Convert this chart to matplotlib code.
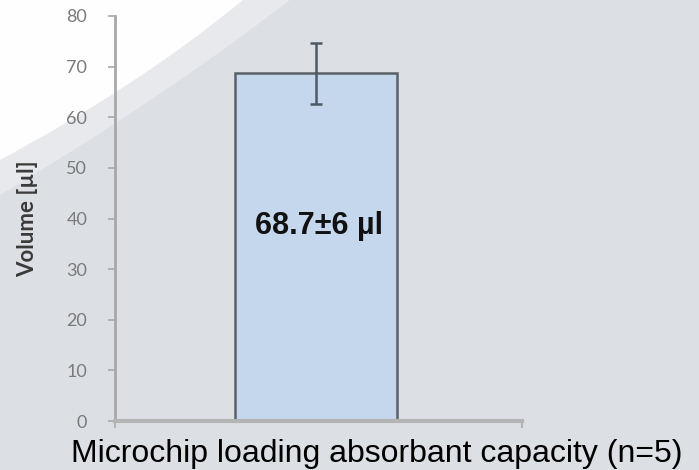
import matplotlib
matplotlib.use("Agg")
import matplotlib.pyplot as plt
from matplotlib.path import Path
from matplotlib.patches import PathPatch

# Data
categories = ["Microchip loading absorbant capacity (n=5)"]
values = [68.7]
errors = [6.0]
bar_label = "68.7±6 µl"
y_ticks = [0, 10, 20, 30, 40, 50, 60, 70, 80]
y_label = "Volume [µl]"

W, H = 699, 470
fig = plt.figure(figsize=(W / 100, H / 100), dpi=100)
fig.patch.set_facecolor("#dcdfe4")

def fp(x, y):
    return (x / W, 1 - y / H)

# decorative swoosh band
band = Path([fp(0, 0), fp(0, 195), fp(160, 100), fp(290, 0), fp(0, 0)],
            [Path.MOVETO, Path.LINETO, Path.CURVE3, Path.CURVE3, Path.CLOSEPOLY])
fig.patches.append(PathPatch(band, transform=fig.transFigure, facecolor="#e7e9ec",
                             edgecolor="none", zorder=-2))
white = Path([fp(0, 0), fp(0, 160), fp(140, 85), fp(243, 0), fp(0, 0)],
             [Path.MOVETO, Path.LINETO, Path.CURVE3, Path.CURVE3, Path.CLOSEPOLY])
fig.patches.append(PathPatch(white, transform=fig.transFigure, facecolor="#fefefe",
                             edgecolor="none", zorder=-1))

ax = fig.add_axes([115 / W, 1 - 421 / H, (522 - 115) / W, (421 - 16) / H])
ax.set_facecolor("none")

x = list(range(len(values)))
ax.bar(x, values, width=0.4, color="#c4d7ed", edgecolor="#5a6068", linewidth=1.8, zorder=2)
ax.errorbar(x, values, yerr=errors, fmt="none", ecolor="#4d5a66", elinewidth=1.8,
            capsize=4, capthick=1.8, zorder=3)
for xi, v in zip(x, values):
    ax.text(xi + 0.008, 38.5, bar_label, ha="center", va="center", fontsize=22,
            fontweight="bold", family="Liberation Sans", color="#111111", zorder=4)

ax.set_xlim(-0.494, 0.506)
ax.set_ylim(0, 80)
ax.set_yticks(y_ticks)
ax.set_yticklabels([str(t) for t in y_ticks], family="Lato", fontsize=13, color="#7a7a7a")
ax.set_xticks([-0.494, 0.506])
ax.set_xticklabels(["", ""])
ax.tick_params(axis="y", length=5, width=1.2, color="#a8a8a8", pad=15)
ax.tick_params(axis="x", length=5, width=1.5, color="#b4b4b4")

for s in ["top", "right"]:
    ax.spines[s].set_visible(False)
ax.spines["left"].set_color("#a8a8a8")
ax.spines["left"].set_linewidth(2)
ax.spines["bottom"].set_color("#b4b4b4")
ax.spines["bottom"].set_linewidth(3)

fig.text(28 / W, 1 - 219 / H, y_label, family="Lato", fontweight="bold", fontsize=16,
         color="#3a3a3a", rotation=90, ha="center", va="center")
fig.text(377 / W, 1 - 462 / H, categories[0], family="Liberation Sans", fontsize=23,
         color="black", ha="center", va="baseline")

fig.savefig("out.png", dpi=100, facecolor=fig.get_facecolor())
